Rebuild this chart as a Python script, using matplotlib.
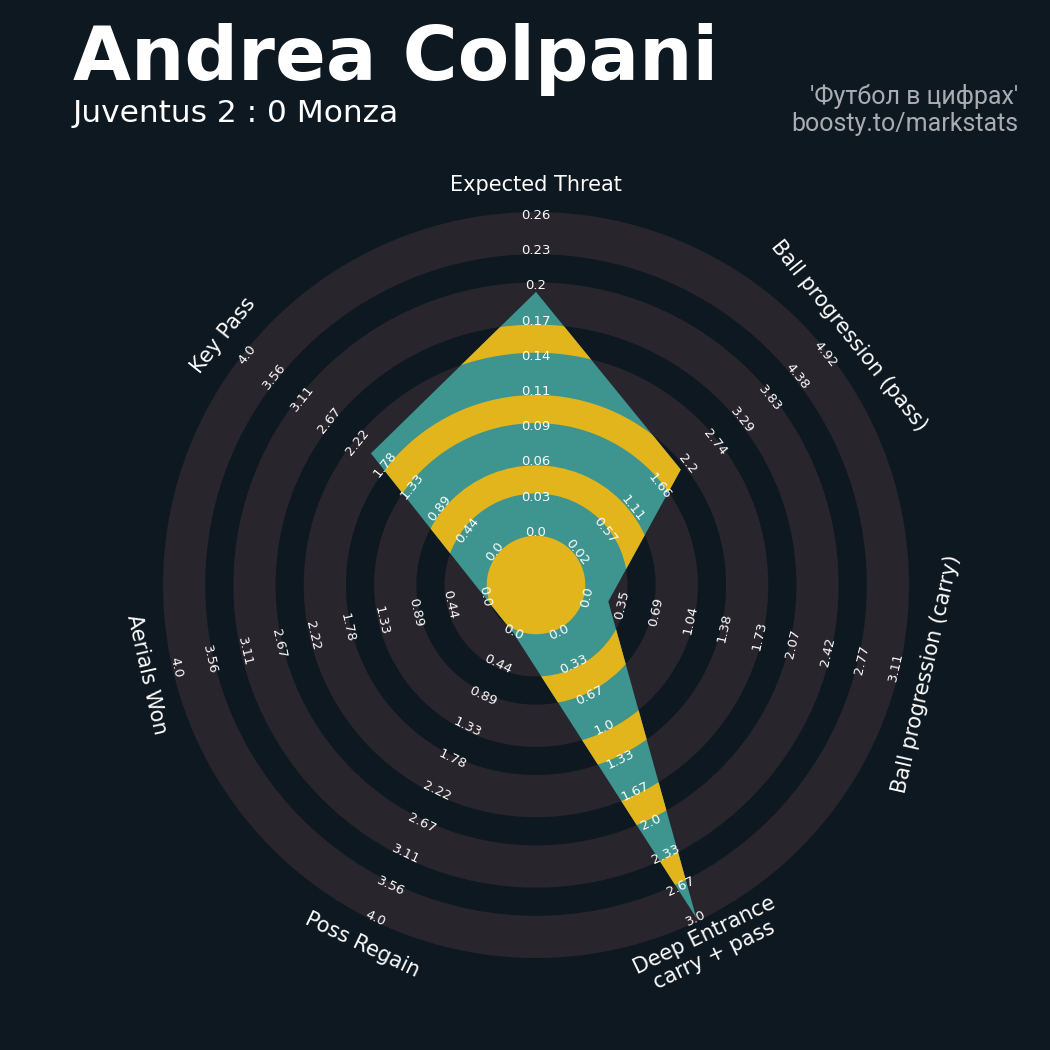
import numpy as np
import matplotlib
matplotlib.use("Agg")
import matplotlib.pyplot as plt
from matplotlib.patches import Wedge, Polygon, Circle

# ---------------- data ----------------
params = ["Expected Threat", "Ball progression (pass)", "Ball progression (carry)",
          "Deep Entrance\ncarry + pass", "Poss Regain", "Aerials Won", "Key Pass"]
low = [0.0, 0.024, 0.0, 0.0, 0.0, 0.0, 0.0]
high = [0.257, 4.92, 3.11, 3.0, 4.0, 4.0, 4.0]
values = [0.195, 2.07, 0.21, 3.0, 0.0, 0.0, 2.0]
range_labels = [
    ["0.0", "0.03", "0.06", "0.09", "0.11", "0.14", "0.17", "0.2", "0.23", "0.26"],
    ["0.02", "0.57", "1.11", "1.66", "2.2", "2.74", "3.29", "3.83", "4.38", "4.92"],
    ["0.0", "0.35", "0.69", "1.04", "1.38", "1.73", "2.07", "2.42", "2.77", "3.11"],
    ["0.0", "0.33", "0.67", "1.0", "1.33", "1.67", "2.0", "2.33", "2.67", "3.0"],
    ["0.0", "0.44", "0.89", "1.33", "1.78", "2.22", "2.67", "3.11", "3.56", "4.0"],
    ["0.0", "0.44", "0.89", "1.33", "1.78", "2.22", "2.67", "3.11", "3.56", "4.0"],
    ["0.0", "0.44", "0.89", "1.33", "1.78", "2.22", "2.67", "3.11", "3.56", "4.0"],
]
title = "Andrea Colpani"
subtitle = "Juventus 2 : 0 Monza"
credit1 = "'Футбол в цифрах'"
credit2 = "boosty.to/markstats"

# ---------------- style ----------------
BG = "#0e1821"
RING = "#28252c"
TEAL = "#3e948e"
YELLOW = "#e3b51d"
TXT = "#fcfcfc"
CREDIT = "#a9acb1"

CENTER_R = 1.5
RING_W = 1.0
N_RINGS = 9
D = 0.1  # visual thickening of the light rings
OUTER = CENTER_R + RING_W * N_RINGS

fig = plt.figure(figsize=(10.5, 10.5), dpi=100, facecolor=BG)
ax = fig.add_axes([0, 0, 1, 1])
ax.set_facecolor(BG)
scale = 35.19
cx, cy = 536, 585
ax.set_xlim(-cx / scale, (1050 - cx) / scale)
ax.set_ylim(-(1050 - cy) / scale, cy / scale)
ax.axis("off")

# background rings
for k in range(0, N_RINGS, 2):
    r_out = CENTER_R + (k + 1) * RING_W + D
    w = RING_W + 2 * D
    ax.add_patch(Wedge((0, 0), r_out, 0, 360, width=w, facecolor=RING,
                       edgecolor="none", zorder=1))

n = len(params)
angles = np.deg2rad(90 - np.arange(n) * 360 / n)
radii = [CENTER_R + N_RINGS * RING_W * (v - lo) / (hi - lo)
         for v, lo, hi in zip(values, low, high)]
verts = np.column_stack([np.array(radii) * np.cos(angles), np.array(radii) * np.sin(angles)])
poly = Polygon(verts, closed=True, facecolor=TEAL, edgecolor="none", zorder=2)
ax.add_patch(poly)

# rings inside the radar
inner = [Circle((0, 0), CENTER_R - D, facecolor=YELLOW, edgecolor="none", zorder=3)]
for k in range(1, N_RINGS, 2):
    r_out = CENTER_R + (k + 1) * RING_W - D
    inner.append(Wedge((0, 0), r_out, 0, 360, width=RING_W - 2 * D,
                       facecolor=YELLOW, edgecolor="none", zorder=3))
for p in inner:
    ax.add_patch(p)
    p.set_clip_path(poly)


def text_rot(theta_deg):
    rot = theta_deg - 90
    rot = (rot + 180) % 360 - 180
    if rot < -90:
        rot += 180
    elif rot > 90:
        rot -= 180
    return rot


# range labels
for i in range(n):
    th = np.rad2deg(angles[i])
    rot = text_rot(th)
    for k, lab in enumerate(range_labels[i]):
        r = CENTER_R + k * RING_W
        ax.text(r * np.cos(angles[i]), r * np.sin(angles[i]), lab, color=TXT,
                fontsize=9.5, rotation=rot, rotation_mode="anchor",
                ha="center", va="center", zorder=5)

# parameter labels
R_PARAM = 400 / scale
for i in range(n):
    th = np.rad2deg(angles[i])
    rot = text_rot(th)
    ax.text(R_PARAM * np.cos(angles[i]), R_PARAM * np.sin(angles[i]), params[i],
            color=TXT, fontsize=15, rotation=rot, rotation_mode="anchor",
            ha="center", va="center", multialignment="center", linespacing=1.1, zorder=5)

# titles
fig.text(73 / 1050, 1 - 80 / 1050, title, color="white", fontsize=54,
         fontweight="bold", ha="left", va="baseline")
fig.text(73 / 1050, 1 - 122 / 1050, subtitle, color="white", fontsize=22.5,
         ha="left", va="baseline")
fig.text(1018 / 1050, 1 - 104 / 1050, credit1, color=CREDIT, fontsize=18,
         family=["Roboto", "DejaVu Sans"], ha="right", va="baseline")
fig.text(1018 / 1050, 1 - 131 / 1050, credit2, color=CREDIT, fontsize=18,
         family=["Roboto", "DejaVu Sans"], ha="right", va="baseline")

fig.savefig("out.png", dpi=100, facecolor=BG)
